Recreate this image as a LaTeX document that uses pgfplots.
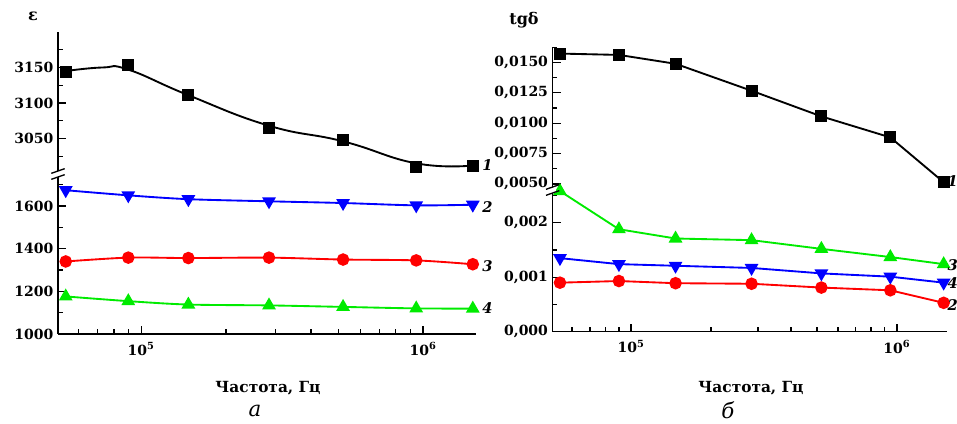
\documentclass[border=0pt]{standalone}
\usepackage{fontspec}
\setmainfont{DejaVu Serif}
\usepackage{pgfplots}
\pgfplotsset{compat=1.18}
\pgfkeys{/pgf/number format/.cd, assume math mode=true, 1000 sep={}}

\definecolor{cgreen}{RGB}{0,235,0}
\definecolor{cblue}{RGB}{0,0,255}
\definecolor{cred}{RGB}{255,0,0}

\pgfplotsset{
  brkbase/.style={
    scale only axis, anchor=south west,
    xmin=5.07e4, xmax=1.54e6, clip=false,
    axis lines*=left, axis line style={line width=1.1pt},
    tick align=inside, major tick length=6pt, minor tick length=3.5pt,
    every tick/.style={black, line width=1pt},
    tick label style={font=\bfseries\fontsize{10.5}{12}\selectfont},
    scaled y ticks=false,
    every axis plot/.append style={line width=1.4pt},
  },
  brktop/.style={brkbase, hide x axis},
  brkbot/.style={brkbase,
    xtick={1e5,1e6}, xticklabels={10\textsuperscript{5},10\textsuperscript{6}},
    minor xtick={6e4,7e4,8e4,9e4,2e5,3e5,4e5,5e5,6e5,7e5,8e5,9e5},
    xticklabel style={yshift=-3pt},
  },
}

\newcommand{\brkmark}[2]{%
  \fill[white] (#1-2.5pt,#2-2pt) rectangle (#1+2.5pt,#2+2pt);
  \draw[line width=1pt] (#1-5pt,#2-4pt) -- (#1+5pt,#2-0.5pt);
  \draw[line width=1pt] (#1-5pt,#2+0.5pt) -- (#1+5pt,#2+4pt);
}

\begin{document}
\begin{tikzpicture}
\useasboundingbox (0,0) rectangle (717.75pt,318pt);

% ---- panel a, upper part
\begin{semilogxaxis}[brktop, at={(43.5pt,187.5pt)}, width=313.5pt, height=106.5pt,
    ymin=3000, ymax=3200, ytick={3050,3100,3150}, minor ytick={3025,3075,3125,3175}]
\addplot[black, smooth, tension=0.8] coordinates {
  (5.4e4,3145) (7.3e4,3150) (9.0e4,3147) (1.47e5,3111) (2.84e5,3068)
  (5.2e5,3046) (9.45e5,3015) (1.5e6,3012)
};
\addplot[black, only marks, mark=square*, mark size=3.8pt] coordinates {
  (5.4e4,3144) (9.0e4,3154) (1.47e5,3111) (2.84e5,3065)
  (5.2e5,3048) (9.45e5,3010) (1.5e6,3011)
};
\end{semilogxaxis}

% ---- panel a, lower part
\begin{semilogxaxis}[brkbot, at={(43.5pt,67.5pt)}, width=313.5pt, height=120pt,
    ymin=1000, ymax=1750, ytick={1000,1200,1400,1600}, minor ytick={1100,1300,1500,1700}]
\addplot[cblue, smooth, mark=triangle*, mark size=4.6pt, mark options={fill=cblue, rotate=180}] coordinates {
  (5.4e4,1674) (9.0e4,1650) (1.47e5,1632) (2.84e5,1622)
  (5.2e5,1614) (9.45e5,1603) (1.5e6,1606)
};
\addplot[cred, smooth, mark=*, mark size=4pt, mark options={fill=cred}] coordinates {
  (5.4e4,1340) (9.0e4,1358) (1.47e5,1356) (2.84e5,1358)
  (5.2e5,1349) (9.45e5,1345) (1.5e6,1327)
};
\addplot[cgreen, smooth, mark=triangle*, mark size=4.6pt, mark options={fill=cgreen}] coordinates {
  (5.4e4,1176) (9.0e4,1154) (1.47e5,1138) (2.84e5,1134)
  (5.2e5,1127) (9.45e5,1120) (1.5e6,1119)
};
\end{semilogxaxis}

% ---- panel b, upper part
\begin{semilogxaxis}[brktop, at={(414.5pt,175.5pt)}, width=295.5pt, height=107.5pt,
    ymin=0.0045, ymax=0.0163,
    ytick={0.005,0.0075,0.01,0.0125,0.015},
    minor ytick={0.00625,0.00875,0.01125,0.01375,0.01625},
    yticklabel style={/pgf/number format/.cd, fixed, fixed zerofill, precision=4, use comma}]
\addplot[black, mark=square*, mark size=3.8pt] coordinates {
  (5.4e4,0.01573) (9.0e4,0.01562) (1.47e5,0.01489) (2.84e5,0.01267)
  (5.2e5,0.01056) (9.45e5,0.00883) (1.5e6,0.00514)
};
\end{semilogxaxis}

% ---- panel b, lower part
\begin{semilogxaxis}[brkbot, at={(414.5pt,69.2pt)}, width=295.5pt, height=106.3pt,
    ymin=0, ymax=0.0026, ytick={0,0.001,0.002}, minor ytick={0.0005,0.0015,0.0025},
    yticklabel style={/pgf/number format/.cd, fixed, fixed zerofill, precision=3, use comma}]
\addplot[cgreen, mark=triangle*, mark size=4.6pt, mark options={fill=cgreen}] coordinates {
  (5.4e4,0.00258) (9.0e4,0.00188) (1.47e5,0.00171) (2.84e5,0.00168)
  (5.2e5,0.00152) (9.45e5,0.00137) (1.5e6,0.00124)
};
\addplot[cblue, mark=triangle*, mark size=4.6pt, mark options={fill=cblue, rotate=180}] coordinates {
  (5.4e4,0.00135) (9.0e4,0.00124) (1.47e5,0.00121) (2.84e5,0.00117)
  (5.2e5,0.00107) (9.45e5,0.00101) (1.5e6,0.00090)
};
\addplot[cred, mark=*, mark size=4pt, mark options={fill=cred}] coordinates {
  (5.4e4,0.00090) (9.0e4,0.00093) (1.47e5,0.00089) (2.84e5,0.00088)
  (5.2e5,0.00081) (9.45e5,0.00076) (1.5e6,0.00053)
};
\end{semilogxaxis}

% axis breaks
\brkmark{43.5pt}{187.5pt}
\brkmark{414.5pt}{175.5pt}

% axis titles
\node[font=\bfseries\fontsize{12}{14}\selectfont] at (24.75pt,306pt) {ε};
\node[font=\bfseries\fontsize{12}{14}\selectfont] at (393pt,303pt) {tgδ};
\node[font=\bfseries\fontsize{11.5}{13}\selectfont] at (201pt,27pt) {Частота, Гц};
\node[font=\bfseries\fontsize{11.5}{13}\selectfont] at (563.25pt,27pt) {Частота, Гц};
\node[font=\itshape\fontsize{16}{18}\selectfont] at (191.25pt,10pt) {а};
\node[font=\itshape\fontsize{16}{18}\selectfont] at (546pt,10.5pt) {б};

% curve numbers
\begin{scope}[every node/.style={anchor=west, inner sep=0pt, font=\bfseries\itshape\fontsize{11}{13}\selectfont}]
\node at (361.5pt,194.25pt) {1};
\node at (361.5pt,162.75pt) {2};
\node at (361.5pt,118.5pt) {3};
\node at (361.5pt,87pt) {4};
\node at (710.5pt,182.25pt) {1};
\node at (710.5pt,119.25pt) {3};
\node at (710.5pt,105.75pt) {4};
\node at (710.5pt,89.25pt) {2};
\end{scope}
\end{tikzpicture}
\end{document}
